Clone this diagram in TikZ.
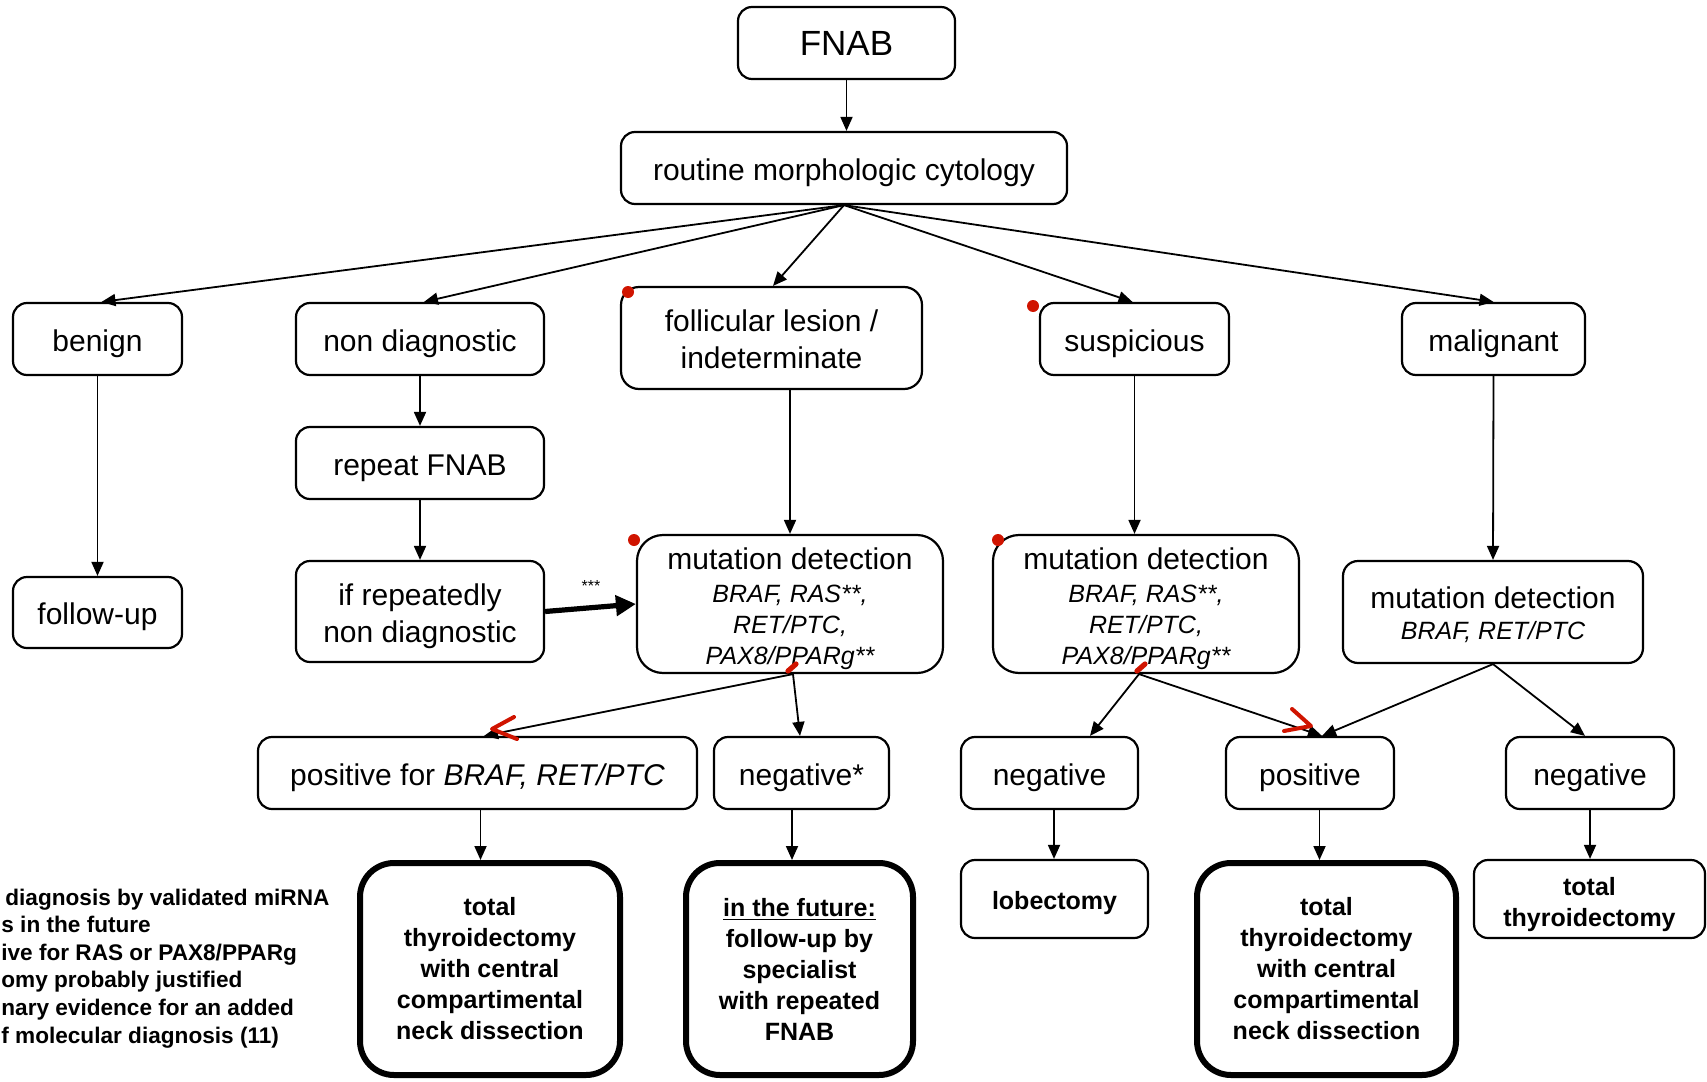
\documentclass[tikz,border=0pt]{standalone}
\usepackage{fontspec}
\setmainfont{Liberation Sans}
\usetikzlibrary{arrows.meta}
\definecolor{redmark}{RGB}{208,20,0}
\newcommand\tallstrut[1]{\rule{0pt}{#1}}
\begin{document}
\begin{tikzpicture}[x=0.5pt,y=-0.5pt,
  box/.style={draw, line width=1.1pt, rounded corners=7pt, align=center, inner sep=0pt, font=\fontsize{15}{18.5}\selectfont},
  sbox/.style={box, text height=12.3pt, text depth=0pt},
  mutbox/.style={box, rounded corners=13pt, font=\itshape\fontsize{12.5}{15.4}\selectfont},
  endbox/.style={draw, line width=3pt, rounded corners=17pt, align=center, inner sep=0pt, font=\bfseries\fontsize{12.5}{15.5}\selectfont},
  smallend/.style={box, font=\bfseries\fontsize{12.5}{15.5}\selectfont},
  arr/.style={-{Triangle[length=7pt,width=6pt]}, line width=0.9pt},
  thickarr/.style={-{Triangle[length=10pt,width=10pt]}, line width=2.6pt},
  note/.style={anchor=base west, inner sep=0pt, font=\bfseries\fontsize{11.3}{13.85}\selectfont},
  redstroke/.style={draw=redmark, line width=2pt, line cap=round, line join=round}]
\useasboundingbox (0,0) rectangle (1707,1081);
\clip (0,0) rectangle (1707,1081);
\fill[white] (0,0) rectangle (1707,1081);

% nodes
\node[box, minimum width=108.5pt, minimum height=36pt, font=\fontsize{17.5}{20}\selectfont] (fnab) at (846.5,43) {FNAB};
\node[sbox, minimum width=223pt, minimum height=36pt] (rmc) at (844,168) {routine morphologic cytology};
\node[sbox, minimum width=84.5pt, minimum height=36pt] (benign) at (97.5,339) {benign};
\node[sbox, minimum width=124pt, minimum height=36pt] (nondiag) at (420,339) {non diagnostic};
\node[box, rounded corners=9pt, minimum width=150.5pt, minimum height=51pt] (foll) at (771.5,338) {\tallstrut{12pt}follicular lesion /\\indeterminate};
\node[sbox, minimum width=94.5pt, minimum height=36pt] (susp) at (1134.5,339) {suspicious};
\node[sbox, minimum width=91.5pt, minimum height=36pt] (malig) at (1493.5,339) {malignant};
\node[sbox, minimum width=124pt, minimum height=36pt] (repeat) at (420,463) {repeat FNAB};
\node[sbox, minimum width=84.5pt, minimum height=35.5pt] (follow) at (97.5,612.5) {follow-up};
\node[box, minimum width=124pt, minimum height=50.5pt] (ifrep) at (420,611.5) {\tallstrut{16pt}if repeatedly\\non diagnostic};
\node[mutbox, minimum width=153pt, minimum height=69pt] (mut1) at (790,604) {{\upshape\fontsize{15}{15}\selectfont\tallstrut{15.4pt}mutation detection}\\[1pt]BRAF, RAS**,\\RET/PTC,\\PAX8/PPARg**};
\node[mutbox, minimum width=153pt, minimum height=69pt] (mut2) at (1146,604) {{\upshape\fontsize{15}{15}\selectfont\tallstrut{15.4pt}mutation detection}\\[1pt]BRAF, RAS**,\\RET/PTC,\\PAX8/PPARg**};
\node[mutbox, rounded corners=7.5pt, minimum width=150pt, minimum height=51pt] (mut3) at (1493,612) {{\upshape\fontsize{15}{15}\selectfont\tallstrut{13.7pt}mutation detection}\\BRAF, RET/PTC};
\node[sbox, minimum width=219.5pt, minimum height=36pt] (pos1) at (477.5,773) {positive for \textit{BRAF, RET/PTC}};
\node[sbox, minimum width=87.5pt, minimum height=36pt] (neg1) at (801.5,773) {negative*};
\node[sbox, minimum width=88.5pt, minimum height=36pt] (neg2) at (1049.5,773) {negative};
\node[sbox, minimum width=84pt, minimum height=36pt] (pos2) at (1310,773) {positive};
\node[sbox, minimum width=84pt, minimum height=36pt] (neg3) at (1590,773) {negative};
\node[endbox, minimum width=130pt, minimum height=106pt] (tot1) at (490,969) {total\\thyroidectomy\\with central\\compartimental\\neck dissection};
\node[endbox, minimum width=113.5pt, minimum height=106pt] (future) at (799.5,969) {\underline{in the future:}\\follow-up by\\specialist\\with repeated\\FNAB};
\node[smallend, text height=10.9pt, text depth=0pt, minimum width=93.5pt, minimum height=39pt] (lob) at (1054.5,899) {lobectomy};
\node[endbox, minimum width=129.5pt, minimum height=106pt] (tot2) at (1326.5,969) {total\\thyroidectomy\\with central\\compartimental\\neck dissection};
\node[smallend, minimum width=115.5pt, minimum height=39pt] (tot3) at (1589.5,899) {\tallstrut{14.5pt}total\\thyroidectomy};

\node[inner sep=0pt, font=\fontsize{8}{8}\selectfont] (stars) at (591,586) {***};

% footnotes
\node[note] (f1) at (5,905) {diagnosis by validated miRNA};
\node[note] (f2) at (1,932.6) {s in the future};
\node[note] (f3) at (1,960.2) {ive for RAS or PAX8/PPARg};
\node[note] (f4) at (1,987.8) {omy probably justified};
\node[note] (f5) at (1,1015.4) {nary evidence for an added};
\node[note] (f6) at (1,1043) {f molecular diagnosis (11)};

% connectors
\draw[arr] (fnab.south) -- (fnab.south |- rmc.north);
\draw[arr] (rmc.south) -- ([xshift=2pt]benign.north);
\draw[arr] (rmc.south) -- ([xshift=2pt]nondiag.north);
\draw[arr] (rmc.south) -- ([xshift=0.75pt]foll.north);
\draw[arr] (rmc.south) -- ([xshift=-1pt]susp.north);
\draw[arr] (rmc.south) -- (malig.north);
\draw[arr] (benign.south) -- (follow.north);
\draw[arr] (nondiag.south) -- (repeat.north);
\draw[arr] (repeat.south) -- (ifrep.north);
\draw[thickarr] (ifrep.east) -- (mut1.west);
\draw[arr] (foll.south -| mut1.north) -- (mut1.north);
\draw[arr] (susp.south) -- (susp.south |- mut2.north);
\draw[arr] (malig.south) -- (mut3.north);
\draw[arr] ([xshift=1.5pt]mut1.south) -- ([xshift=3.25pt]pos1.north);
\draw[arr] ([xshift=1.5pt]mut1.south) -- ([xshift=-0.75pt]neg1.north);
\draw[arr] ([xshift=-3.5pt]mut2.south) -- ([xshift=20.25pt]neg2.north);
\draw[arr] ([xshift=-3.5pt]mut2.south) -- ([xshift=6pt]pos2.north);
\draw[arr] (mut3.south) -- ([xshift=6pt]pos2.north);
\draw[arr] (mut3.south) -- ([xshift=-2.5pt]neg3.north);
\draw[arr] ([xshift=1.5pt]pos1.south) -- ([xshift=1.5pt]pos1.south |- tot1.north);
\draw[arr] ([xshift=-4.75pt]neg1.south) -- ([xshift=-4.75pt]neg1.south |- future.north);
\draw[arr] ([xshift=2.25pt]neg2.south) -- ([xshift=2.25pt]neg2.south |- lob.north);
\draw[arr] ([xshift=4.75pt]pos2.south) -- ([xshift=4.75pt]pos2.south |- tot2.north);
\draw[arr] (neg3.south) -- (neg3.south |- tot3.north);

% red marks
\fill[redmark] (628,292) circle[radius=3pt];
\fill[redmark] (1033,306) circle[radius=3pt];
\fill[redmark] (634,540) circle[radius=3pt];
\fill[redmark] (998,540) circle[radius=3pt];
\draw[redstroke, line width=2.6pt] (788,671) -- (796,664);
\draw[redstroke, line width=2.6pt] (1137,671) -- (1145,664);
\draw[redstroke] (514,717) -- (492,729) -- (517,739);
\draw[redstroke] (1292,709) -- (1311,726) -- (1284,731);
\end{tikzpicture}
\end{document}
